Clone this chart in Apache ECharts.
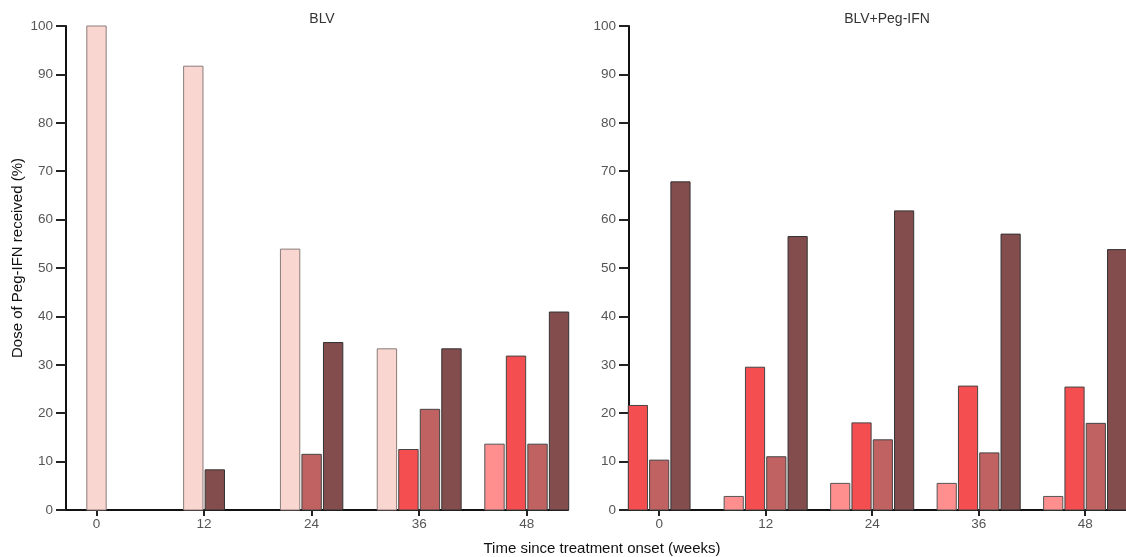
<!DOCTYPE html>
<html>
<head>
<meta charset="utf-8">
<script src="https://cdn.jsdelivr.net/npm/echarts@6/dist/echarts.min.js"></script>
<style>html,body{margin:0;padding:0;background:#fff}#c{width:1126px;height:557px}</style>
</head>
<body>
<div id="c"></div>
<script>
const weeks = [0, 12, 24, 36, 48];
const panelTitles = ['BLV', 'BLV+Peg-IFN'];
const seriesNames = ['S1', 'S2', 'S3', 'S4', 'S5'];
const yTicks = [0, 10, 20, 30, 40, 50, 60, 70, 80, 90, 100];
// BLV panel
const blvS1 = [100, 91.7, 53.9, 33.3, 0];
const blvS2 = [0, 0, 0, 0, 13.6];
const blvS3 = [0, 0, 0, 12.5, 31.8];
const blvS4 = [0, 0, 11.5, 20.8, 13.6];
const blvS5 = [0, 8.3, 34.6, 33.3, 40.9];
// BLV+Peg-IFN panel
const pegS1 = [0, 0, 0, 0, 0];
const pegS2 = [0, 2.8, 5.5, 5.5, 2.8];
const pegS3 = [21.6, 29.5, 18.0, 25.6, 25.4];
const pegS4 = [10.3, 11.0, 14.5, 11.8, 17.9];
const pegS5 = [67.8, 56.5, 61.8, 57.0, 53.8];

const colors = ['#f9d6d0', '#ff8e8e', '#f44e50', '#c06162', '#834c4d'];
const borders = ['#8a7c7a', '#555', '#444', '#444', '#333'];

function rows(a, b, c, d, e) {
  return weeks.map((w, i) => [w, a[i], b[i], c[i], d[i], e[i]]);
}
const dataBLV = rows(blvS1, blvS2, blvS3, blvS4, blvS5);
const dataPEG = rows(pegS1, pegS2, pegS3, pegS4, pegS5);

function renderItem(params, api) {
  const x = api.value(0);
  const vals = [1, 2, 3, 4, 5].map(k => api.value(k));
  const idx = [];
  vals.forEach((v, k) => { if (v > 0) idx.push(k); });
  const step = api.size([2.4, 0])[0];
  const bw = step * 0.9;
  const center = api.coord([x, 0]);
  const n = idx.length;
  const children = idx.map((k, j) => {
    const cx = center[0] + (j - (n - 1) / 2) * step;
    const top = api.coord([x, vals[k]]);
    return {
      type: 'rect',
      shape: { x: cx - bw / 2, y: top[1], width: bw, height: center[1] - top[1] },
      style: { fill: colors[k], stroke: borders[k], lineWidth: 1 }
    };
  });
  return { type: 'group', children };
}

const FONT = 'Liberation Sans, Arial';
const axisCommonX = {
  type: 'value', min: -3.4, max: 52.6,
  axisLine: { show: true, onZero: false, lineStyle: { color: '#111', width: 2 } },
  axisTick: { show: true, customValues: weeks, length: 6, lineStyle: { color: '#222', width: 2 } },
  axisLabel: { customValues: weeks, color: '#555', fontSize: 13.5, fontFamily: FONT, margin: 7 },
  splitLine: { show: false }
};
const axisCommonY = {
  type: 'value', min: 0, max: 100, interval: 10,
  axisLine: { show: true, onZero: false, lineStyle: { color: '#111', width: 2 } },
  axisTick: { show: true, length: 10, lineStyle: { color: '#222', width: 2 } },
  axisLabel: { color: '#555', fontSize: 13.5, fontFamily: FONT, margin: 13 },
  splitLine: { show: false }
};

const chart = echarts.init(document.getElementById('c'));
chart.setOption({
  animation: false,
  backgroundColor: '#fff',
  title: [
    { text: panelTitles[0], left: 317, top: 7, textAlign: 'center', textStyle: { fontSize: 14, fontWeight: 'normal', color: '#333', fontFamily: FONT } },
    { text: panelTitles[1], left: 882, top: 7, textAlign: 'center', textStyle: { fontSize: 14, fontWeight: 'normal', color: '#333', fontFamily: FONT } },
    { text: 'Time since treatment onset (weeks)', left: 597, top: 536, textAlign: 'center', textStyle: { fontSize: 15, fontWeight: 'normal', color: '#111', fontFamily: FONT } }
  ],
  graphic: [
    { type: 'text', x: 18, y: 258, rotation: Math.PI / 2, style: { text: 'Dose of Peg-IFN received (%)', fontSize: 15, fill: '#111', fontFamily: FONT, align: 'center', verticalAlign: 'middle' } }
  ],
  grid: [
    { left: 66, top: 26, width: 502, bottom: 47 },
    { left: 629, top: 26, width: 502, bottom: 47 }
  ],
  xAxis: [
    Object.assign({ gridIndex: 0 }, axisCommonX),
    Object.assign({ gridIndex: 1 }, axisCommonX)
  ],
  yAxis: [
    Object.assign({ gridIndex: 0 }, axisCommonY),
    Object.assign({ gridIndex: 1 }, axisCommonY)
  ],
  series: [
    { type: 'custom', name: panelTitles[0], xAxisIndex: 0, yAxisIndex: 0, renderItem, data: dataBLV, encode: { x: 0, y: [1, 2, 3, 4, 5] }, clip: false },
    { type: 'custom', name: panelTitles[1], xAxisIndex: 1, yAxisIndex: 1, renderItem, data: dataPEG, encode: { x: 0, y: [1, 2, 3, 4, 5] }, clip: false }
  ]
});
</script>
</body>
</html>
